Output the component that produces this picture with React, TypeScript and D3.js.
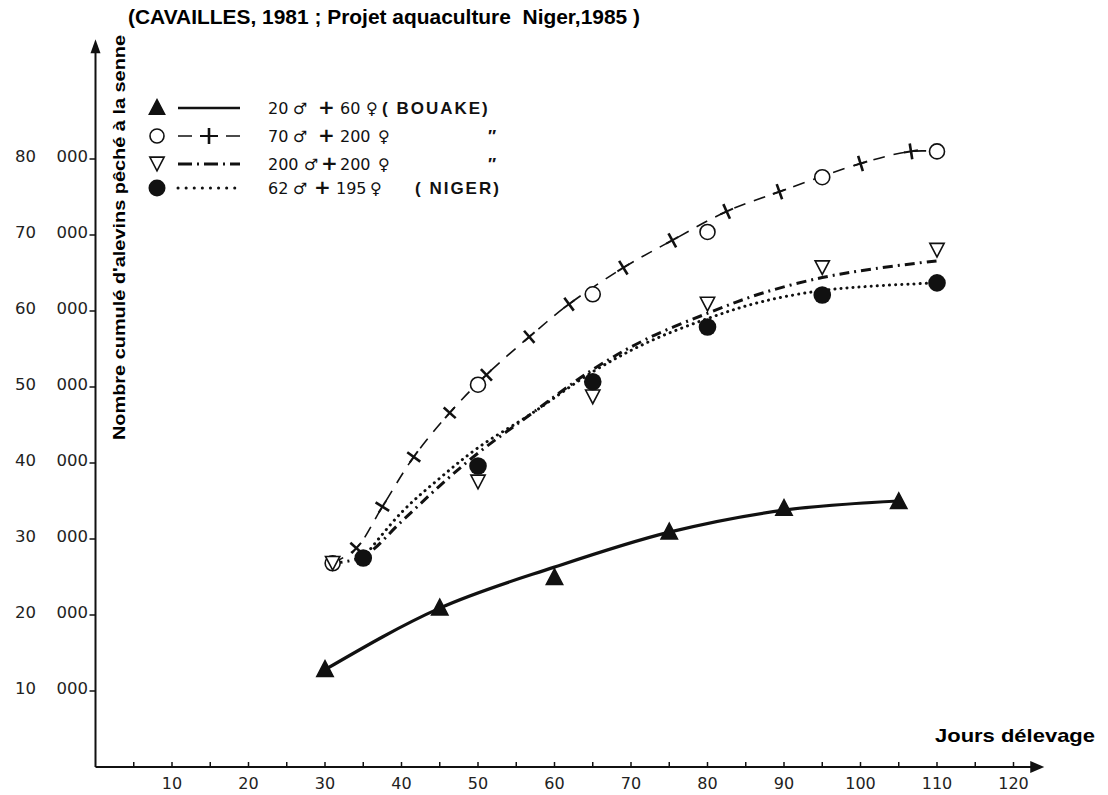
import React, { useEffect, useRef } from "react";
import * as d3 from "d3";

// axis ticks
const xTickMarks = [5, 10, 15, 20, 25, 30, 35, 40, 45, 50, 55, 60, 65, 70, 75, 80, 85, 90, 95, 100, 105, 110, 115, 120];
const xTickLabels = [10, 20, 30, 40, 50, 60, 70, 80, 90, 100, 110, 120];
const yTickLabels = [10000, 20000, 30000, 40000, 50000, 60000, 70000, 80000];

// 20 m + 60 f (BOUAKE) - filled triangles
const bouakeDays = [30, 45, 60, 75, 90, 105];
const bouakeValues = [12800, 20900, 24900, 30900, 34000, 34900];
const bouakeCurve = [[30, 12800], [45, 20900], [60, 26300], [75, 30900], [90, 33800], [105, 35000]];

// 70 m + 200 f - open circles, dashed line with crosses
const c70Days = [31, 50, 65, 80, 95, 110];
const c70Values = [26800, 50300, 62200, 70400, 77600, 81000];
const c70Crosses = [[34.1, 28800], [37.5, 34250], [41.6, 40800], [46.3, 46600], [51.1, 51600], [56.7, 56600], [61.9, 60900], [69, 65700], [75.4, 69300], [82.5, 73100], [89.4, 75700], [100, 79400], [106.6, 81000]];

// 200 m + 200 f - open down triangles, dash-dot line
const c200Days = [31, 50, 65, 80, 95, 110];
const c200Values = [26800, 37500, 48700, 60900, 65700, 68000];
const c200Curve = [[31, 26800], [35, 27700], [40, 32300], [45, 37000], [50, 41300], [57, 46500], [65, 52300], [72, 56300], [80, 59700], [87, 62300], [95, 64400], [102, 65600], [110, 66600]];

// 62 m + 195 f (NIGER) - filled circles, dotted line
const nigerDays = [35, 50, 65, 80, 95, 110];
const nigerValues = [27500, 39600, 50700, 57900, 62100, 63700];
const nigerCurve = [[35, 27500], [40, 33500], [45, 38000], [50, 42000], [57, 46500], [65, 52000], [72, 55800], [80, 59000], [87, 61200], [95, 62700], [102, 63300], [110, 63700]];

const INK = "#111";

function triUp(g, cx, cy, s, filled) {
  g.append("path")
    .attr("d", `M${cx},${cy - s * 0.6}L${cx + s * 0.55},${cy + s * 0.45}L${cx - s * 0.55},${cy + s * 0.45}Z`)
    .attr("fill", filled ? INK : "white").attr("stroke", INK).attr("stroke-width", 1.5);
}
function triDown(g, cx, cy, s) {
  g.append("path")
    .attr("d", `M${cx - s * 0.55},${cy - s * 0.45}L${cx + s * 0.55},${cy - s * 0.45}L${cx},${cy + s * 0.6}Z`)
    .attr("fill", "white").attr("stroke", INK).attr("stroke-width", 1.6);
}

export default function App() {
  const ref = useRef(null);

  useEffect(() => {
    const svg = d3.select(ref.current);
    svg.selectAll("*").remove();

    const x = d3.scaleLinear().domain([0, 120]).range([95.5, 1013.5]);
    const y = d3.scaleLinear().domain([0, 80000]).range([767, 159]);

    const g = svg.append("g");

    // axes
    g.append("line").attr("x1", x(0)).attr("x2", x(123)).attr("y1", y(0)).attr("y2", y(0))
      .attr("stroke", INK).attr("stroke-width", 2);
    g.append("path").attr("d", `M${x(123.5) + 4},${y(0)}L${x(123.5) - 10},${y(0) - 6}L${x(123.5) - 10},${y(0) + 6}Z`).attr("fill", INK);
    g.append("line").attr("x1", x(0)).attr("x2", x(0)).attr("y1", y(0)).attr("y2", y(94000))
      .attr("stroke", INK).attr("stroke-width", 2);
    g.append("path").attr("d", `M${x(0)},${y(95500) - 2}L${x(0) - 5},${y(95500) + 12}L${x(0) + 5},${y(95500) + 12}Z`).attr("fill", INK);

    g.selectAll(".xt").data(xTickMarks).join("line")
      .attr("x1", d => x(d)).attr("x2", d => x(d)).attr("y1", y(0)).attr("y2", y(0) - 5)
      .attr("stroke", INK).attr("stroke-width", 1.5);
    g.selectAll(".xl").data(xTickLabels).join("text")
      .attr("x", d => x(d)).attr("y", 789).attr("text-anchor", "middle")
      .attr("font-family", "DejaVu Sans").attr("font-size", 16).attr("fill", "#222")
      .text(d => d);

    g.selectAll(".yt").data(yTickLabels).join("line")
      .attr("x1", x(0)).attr("x2", x(0) - 6).attr("y1", d => y(d)).attr("y2", d => y(d))
      .attr("stroke", INK).attr("stroke-width", 1.5);
    g.selectAll(".yl1").data(yTickLabels).join("text")
      .attr("x", 36).attr("y", d => y(d) + 3).attr("text-anchor", "end")
      .attr("font-family", "DejaVu Sans").attr("font-size", 16.5).attr("fill", "#222")
      .text(d => d / 1000);
    g.selectAll(".yl2").data(yTickLabels).join("text")
      .attr("x", 88).attr("y", d => y(d) + 3).attr("text-anchor", "end")
      .attr("font-family", "DejaVu Sans").attr("font-size", 16.5).attr("fill", "#222")
      .text("000");

    // titles
    g.append("text").attr("x", 128).attr("y", 24).style("white-space", "pre")
      .attr("font-family", "Liberation Sans Narrow, Liberation Sans, Arial").attr("font-weight", "bold").attr("font-size", 21)
      .attr("textLength", 512).attr("lengthAdjust", "spacingAndGlyphs")
      .text("(CAVAILLES, 1981 ; Projet aquaculture  Niger,1985 )");
    g.append("text").attr("transform", "translate(125,440) rotate(-90)")
      .attr("font-family", "Liberation Sans, Arial").attr("font-weight", "bold").attr("font-size", 17)
      .attr("textLength", 405).attr("lengthAdjust", "spacingAndGlyphs")
      .text("Nombre cumulé d'alevins pêché à la senne");
    g.append("text").attr("x", 935).attr("y", 742)
      .attr("font-family", "Liberation Sans Narrow, Liberation Sans, Arial").attr("font-weight", "bold").attr("font-size", 19)
      .attr("textLength", 160).attr("lengthAdjust", "spacingAndGlyphs")
      .text("Jours délevage");

    const line = d3.line().x(d => x(d[0])).y(d => y(d[1])).curve(d3.curveCatmullRom.alpha(0.5));
    const smooth = d3.line().x(d => x(d[0])).y(d => y(d[1])).curve(d3.curveMonotoneX);

    // curves
    g.append("path").attr("d", smooth(bouakeCurve)).attr("fill", "none").attr("stroke", INK).attr("stroke-width", 3.2);
    const c70Curve = [[c70Days[0], c70Values[0]], ...c70Crosses, [c70Days[5], c70Values[5]]];
    g.append("path").attr("d", line(c70Curve)).attr("fill", "none").attr("stroke", INK).attr("stroke-width", 1.6)
      .attr("stroke-dasharray", "12 9");
    g.append("path").attr("d", line(c200Curve)).attr("fill", "none").attr("stroke", INK).attr("stroke-width", 3)
      .attr("stroke-dasharray", "10 5 2 5");
    g.append("path").attr("d", line(nigerCurve)).attr("fill", "none").attr("stroke", INK).attr("stroke-width", 3)
      .attr("stroke-linecap", "round").attr("stroke-dasharray", "0.1 6");

    // crosses along dashed curve
    c70Crosses.forEach((p, i) => {
      const prev = i === 0 ? [c70Days[0], c70Values[0]] : c70Crosses[i - 1];
      const next = i === c70Crosses.length - 1 ? [c70Days[5], c70Values[5]] : c70Crosses[i + 1];
      const ang = Math.atan2(y(next[1]) - y(prev[1]), x(next[0]) - x(prev[0])) * 180 / Math.PI;
      const cg = g.append("g").attr("transform", `translate(${x(p[0])},${y(p[1])}) rotate(${ang})`);
      cg.append("line").attr("x1", -7).attr("x2", 7).attr("y1", 0).attr("y2", 0).attr("stroke", INK).attr("stroke-width", 2);
      cg.append("line").attr("x1", 0).attr("x2", 0).attr("y1", -8).attr("y2", 8).attr("stroke", INK).attr("stroke-width", 2.6);
    });

    // markers
    bouakeDays.forEach((d, i) => triUp(g, x(d), y(bouakeValues[i]), 15, true));
    c70Days.forEach((d, i) => g.append("circle").attr("cx", x(d)).attr("cy", y(c70Values[i])).attr("r", 7.5)
      .attr("fill", "white").attr("stroke", INK).attr("stroke-width", 1.6));
    c200Days.forEach((d, i) => triDown(g, x(d), y(c200Values[i]) - 1, 13));
    nigerDays.forEach((d, i) => g.append("circle").attr("cx", x(d)).attr("cy", y(nigerValues[i])).attr("r", 8.8).attr("fill", INK));

    // legend
    const rows = [108, 136, 164, 188];
    const lx0 = 178, lx1 = 240;
    triUp(g, 157, rows[0], 14, true);
    g.append("line").attr("x1", lx0).attr("x2", lx1).attr("y1", rows[0]).attr("y2", rows[0]).attr("stroke", INK).attr("stroke-width", 2.5);
    g.append("circle").attr("cx", 157).attr("cy", rows[1]).attr("r", 7).attr("fill", "white").attr("stroke", INK).attr("stroke-width", 1.6);
    g.append("line").attr("x1", lx0).attr("x2", lx1).attr("y1", rows[1]).attr("y2", rows[1]).attr("stroke", INK).attr("stroke-width", 1.6).attr("stroke-dasharray", "14 10");
    g.append("line").attr("x1", 209).attr("x2", 209).attr("y1", rows[1] - 8).attr("y2", rows[1] + 8).attr("stroke", INK).attr("stroke-width", 2.6);
    g.append("line").attr("x1", 200).attr("x2", 218).attr("y1", rows[1]).attr("y2", rows[1]).attr("stroke", INK).attr("stroke-width", 2);
    triDown(g, 157, rows[2] - 1, 13);
    g.append("line").attr("x1", lx0).attr("x2", lx1).attr("y1", rows[2]).attr("y2", rows[2]).attr("stroke", INK).attr("stroke-width", 3).attr("stroke-dasharray", "14 5 2 5");
    g.append("circle").attr("cx", 157).attr("cy", rows[3]).attr("r", 8.5).attr("fill", INK);
    g.append("line").attr("x1", lx0).attr("x2", lx1).attr("y1", rows[3]).attr("y2", rows[3]).attr("stroke", INK).attr("stroke-width", 3).attr("stroke-linecap", "round").attr("stroke-dasharray", "0.1 8");

    const legendText = [
      { y: rows[0], parts: [["20", 268], ["♂", 293], ["+", 318], ["60", 340], ["♀", 366]], tag: "( BOUAKE)", tagX: 382 },
      { y: rows[1], parts: [["70", 268], ["♂", 293], ["+", 318], ["200", 340], ["♀", 378]], tag: "″", tagX: 488 },
      { y: rows[2], parts: [["200", 268], ["♂", 304], ["+", 321], ["200", 340], ["♀", 378]], tag: "″", tagX: 488 },
      { y: rows[3], parts: [["62", 268], ["♂", 293], ["+", 314], ["195", 336], ["♀", 370]], tag: "( NIGER)", tagX: 415 },
    ];
    legendText.forEach(r => {
      r.parts.forEach(([t, px]) => {
        g.append("text").attr("x", px).attr("y", r.y + 6)
          .attr("font-family", "DejaVu Sans").attr("font-size", t === "+" ? 20 : 16)
          .attr("font-weight", t === "+" ? "bold" : "normal").attr("fill", INK).text(t);
      });
      g.append("text").attr("x", r.tagX).attr("y", r.y + 6)
        .attr("font-family", "Liberation Sans, Arial").attr("font-weight", "bold").attr("font-size", 17)
        .attr("letter-spacing", r.tag.length > 2 ? 2 : 0).attr("fill", INK).text(r.tag);
    });
  }, []);

  return (
    <div style={{ position: "absolute", left: 0, top: 0 }}>
      <svg ref={ref} width={1108} height={795} style={{ display: "block", background: "white" }} />
    </div>
  );
}
